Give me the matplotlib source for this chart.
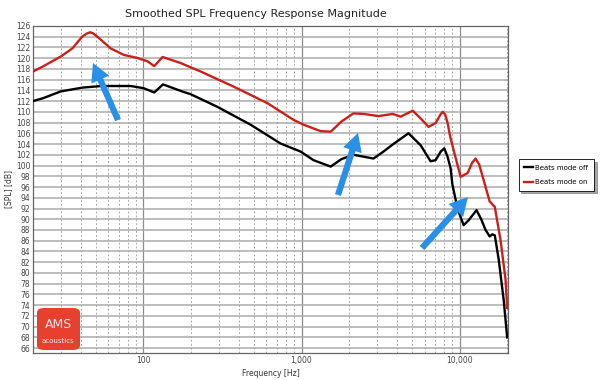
import matplotlib.pyplot as plt
from matplotlib.patches import FancyBboxPatch

# frequency response (Hz, dB SPL)
freq_off = [20, 23, 30, 41, 54, 83, 100, 117, 133, 179, 198, 290, 476, 736, 986,
            1190, 1530, 1790, 2130, 2850, 3300, 3850, 4750, 5660, 6550, 7050,
            7600, 8000, 8400, 8770, 9000, 9700, 10600, 11400, 12800, 13700, 14600,
            15500, 16100, 16700, 17700, 19000, 20000]
spl_off = [112.0, 112.5, 113.8, 114.5, 114.8, 114.8, 114.4, 113.6, 115.1, 113.7,
           113.3, 111.0, 107.6, 104.1, 102.6, 101.0, 99.8, 101.2, 102.0, 101.3,
           102.6, 104.1, 106.0, 103.8, 100.8, 101.0, 102.6, 103.2, 101.6, 99.5,
           96.5, 92.0, 88.9, 89.8, 91.7, 90.0, 88.0, 86.8, 87.2, 87.0, 82.4, 75.0,
           68.0]

freq_on = [20, 23, 30, 35.5, 41, 44, 46, 48, 51, 62, 75, 92, 106, 117, 132, 171,
           230, 371, 609, 890, 1030, 1320, 1530, 1790, 2130, 2470, 3070, 3770,
           4240, 5050, 5660, 6360, 7050, 7500, 7800, 8100, 8400, 8700, 9160,
           10150, 11240, 12000, 12620, 13300, 14190, 15500, 16700, 18160, 19540,
           20000]
spl_on = [117.5, 118.4, 120.3, 121.8, 124.0, 124.6, 124.8, 124.6, 124.0, 121.8,
          120.6, 120.0, 119.4, 118.5, 120.2, 119.1, 117.5, 114.7, 111.6, 108.5,
          107.6, 106.4, 106.3, 108.2, 109.7, 109.6, 109.2, 109.6, 109.1, 110.2,
          108.8, 107.2, 107.9, 109.3, 110.0, 109.5, 107.9, 105.5, 102.9, 97.9,
          98.6, 100.5, 101.3, 100.2, 97.3, 93.3, 92.3, 86.1, 78.7, 73.5]

yticks = list(range(66, 127, 2))
xticks = [100, 1000, 10000]
xtick_labels = ['100', '1,000', '10,000']

fig = plt.figure(figsize=(6, 3.8), dpi=100)
ax = fig.add_axes([0.055, 0.071, 0.792, 0.861])

ax.plot(freq_off, spl_off, color='black', lw=1.7, label='Beats mode off', zorder=3)
ax.plot(freq_on, spl_on, color='#cc1f1a', lw=1.7, label='Beats mode on', zorder=3)

ax.set_xscale('log')
ax.set_xlim(20, 20300)
ax.set_ylim(65.1, 126)
ax.set_yticks(yticks)
ax.set_xticks(xticks)
ax.set_xticklabels(xtick_labels)
ax.tick_params(axis='both', labelsize=5.5, colors='#444444', length=0, pad=2)
ax.tick_params(axis='x', which='minor', length=0)

# grid: solid horizontals, dotted minor verticals, solid decades
ax.grid(True, axis='y', color='#ababab', lw=1.1, ls='-')
ax.grid(True, axis='x', which='major', color='#8c8c8c', lw=0.9, ls='-')
ax.grid(True, axis='x', which='minor', color='#a8a8a8', lw=0.7, ls=(0, (2, 2)))
ax.set_axisbelow(True)
for s in ax.spines.values():
    s.set_color('#666666')
    s.set_linewidth(0.9)

ax.set_xlabel('Frequency [Hz]', fontsize=5.5, color='#333333', labelpad=3)
ax.set_ylabel('[SPL] [dB]', fontsize=5.5, color='#333333', labelpad=2)
fig.text(0.427, 0.962, 'Smoothed SPL Frequency Response Magnitude',
         ha='center', va='center', fontsize=8, color='#222222')

leg = fig.legend(loc='center', bbox_to_anchor=(0.927, 0.54), fontsize=5,
                 frameon=True, fancybox=False, shadow=True, edgecolor='black',
                 handlelength=1.3, handletextpad=0.3, borderpad=0.8,
                 labelspacing=1.2)
leg.get_frame().set_linewidth(0.6)

# blue highlight arrows
arrows = [((118, 120), (93, 63)), ((338, 195), (358, 133)), ((422, 248), (468, 197))]
for (x0, y0), (x1, y1) in arrows:
    ax.annotate('', xy=(x1 / 600, 1 - y1 / 380), xycoords='figure fraction',
                xytext=(x0 / 600, 1 - y0 / 380), textcoords='figure fraction',
                arrowprops=dict(arrowstyle='simple,head_width=1.4,head_length=1.3,tail_width=0.45',
                                color='#2a8fe6', lw=0, shrinkA=0, shrinkB=0),
                zorder=5)

# AMS acoustics badge
badge = FancyBboxPatch((37 / 600, 1 - 350 / 380), 43 / 600, 42 / 380,
                       boxstyle='round,pad=0,rounding_size=0.012',
                       transform=fig.transFigure, facecolor='#e8402e',
                       edgecolor='none', zorder=6)
fig.patches.append(badge)
fig.text(58.5 / 600, 1 - 324 / 380, 'AMS', ha='center', va='center',
         fontsize=9, color='white', alpha=0.9, zorder=7)
fig.text(58.5 / 600, 1 - 341 / 380, 'acoustics', ha='center', va='center',
         fontsize=5, color='white', alpha=0.9, zorder=7)

fig.savefig('out.png', dpi=100)
